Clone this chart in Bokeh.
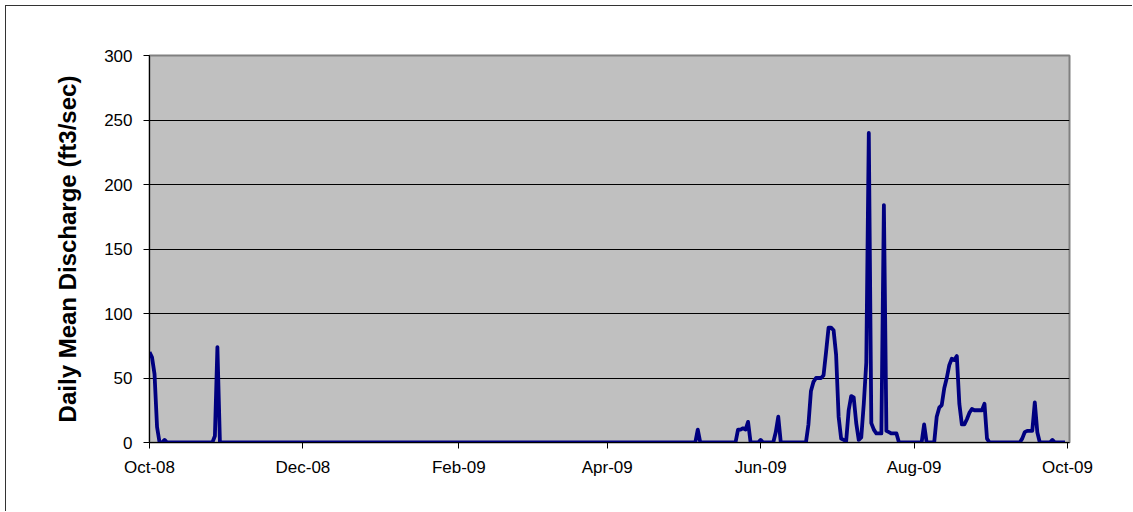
from datetime import datetime
from bokeh.plotting import figure
from bokeh.models import Range1d, FixedTicker, DatetimeTickFormatter, ColumnDataSource
from bokeh.embed import file_html
from bokeh.resources import INLINE

# ---- data ----
dates = [
    "2008-10-01", "2008-10-02", "2008-10-03", "2008-10-04", "2008-10-05", "2008-10-06",
    "2008-10-07", "2008-10-08", "2008-10-26", "2008-10-27", "2008-10-28", "2008-10-29",
    "2009-05-06", "2009-05-07", "2009-05-08",
    "2009-05-22", "2009-05-23", "2009-05-24", "2009-05-25", "2009-05-26", "2009-05-27", "2009-05-28",
    "2009-05-31", "2009-06-01", "2009-06-02",
    "2009-06-06", "2009-06-07", "2009-06-08", "2009-06-09",
    "2009-06-19", "2009-06-20", "2009-06-21", "2009-06-22", "2009-06-23", "2009-06-24",
    "2009-06-25", "2009-06-26", "2009-06-27", "2009-06-28", "2009-06-29", "2009-06-30",
    "2009-07-01", "2009-07-02", "2009-07-03", "2009-07-04", "2009-07-05", "2009-07-06",
    "2009-07-07", "2009-07-08", "2009-07-09", "2009-07-10", "2009-07-11", "2009-07-12",
    "2009-07-13", "2009-07-14", "2009-07-15", "2009-07-16", "2009-07-17", "2009-07-18",
    "2009-07-19", "2009-07-20", "2009-07-21", "2009-07-22", "2009-07-23", "2009-07-24",
    "2009-07-25", "2009-07-26",
    "2009-08-04", "2009-08-05", "2009-08-06",
    "2009-08-09", "2009-08-10", "2009-08-11", "2009-08-12", "2009-08-13", "2009-08-14",
    "2009-08-15", "2009-08-16", "2009-08-17", "2009-08-18", "2009-08-19", "2009-08-20",
    "2009-08-21", "2009-08-22", "2009-08-23", "2009-08-24", "2009-08-25", "2009-08-26",
    "2009-08-27", "2009-08-28", "2009-08-29", "2009-08-30", "2009-08-31",
    "2009-09-12", "2009-09-13", "2009-09-14", "2009-09-15", "2009-09-16", "2009-09-17",
    "2009-09-18", "2009-09-19", "2009-09-20",
    "2009-09-24", "2009-09-25", "2009-09-26", "2009-09-30",
]
discharge = [
    70, 66, 53, 12, 0, 0,
    2, 0, 0, 5, 74, 0,
    0, 10, 0,
    0, 10, 10, 11, 10, 16, 0,
    0, 2, 0,
    0, 8, 20, 0,
    0, 14, 40, 47, 50, 50,
    50, 52, 70, 89, 89, 87,
    68, 20, 3, 2, 1, 25,
    36, 35, 15, 2, 4, 30,
    62, 240, 15, 10, 7, 7,
    7, 184, 9, 8, 7, 7,
    7, 0,
    0, 14, 0,
    0, 20, 27, 29, 42, 50,
    60, 65, 64, 67, 30, 14,
    14, 18, 23, 26, 25, 25,
    25, 25, 30, 3, 0,
    0, 3, 8, 9, 9, 9,
    31, 8, 0,
    0, 2, 0, 0,
]
x_ticks = ["2008-10-01", "2008-12-01", "2009-02-01", "2009-04-01",
           "2009-06-01", "2009-08-01", "2009-10-01"]
y_ticks = [0, 50, 100, 150, 200, 250, 300]
y_title = "Daily Mean Discharge (ft3/sec)"

def ms(s):
    return datetime.strptime(s, "%Y-%m-%d").timestamp() * 1000.0

src = ColumnDataSource(data=dict(x=[datetime.strptime(d, "%Y-%m-%d") for d in dates],
                                 y=discharge))

DAY = 86400000.0
p = figure(width=1127, height=506, x_axis_type="datetime",
           output_backend="svg", toolbar_location=None,
           x_range=Range1d(ms("2008-10-01"), ms("2009-10-01") + 0.8 * DAY),
           y_range=Range1d(0, 300),
           min_border_left=143, min_border_right=64,
           min_border_top=49, min_border_bottom=70)
p.styles = {"margin-left": "5px", "margin-top": "5px",
            "border-left": "1px solid #333", "border-top": "1px solid #333"}

p.background_fill_color = "#C0C0C0"
p.border_fill_color = "white"
p.outline_line_color = "#808080"
p.outline_line_width = 2

p.line("x", "y", source=src, line_color="#000080", line_width=3.8, line_join="round")

FONT = "Liberation Sans"
# x axis
xa = p.xaxis[0]
xa.ticker = FixedTicker(ticks=[ms(t) for t in x_ticks])
fmt = "%b-%y"
xa.formatter = DatetimeTickFormatter(milliseconds=fmt, seconds=fmt, minsec=fmt, minutes=fmt,
                                     hourmin=fmt, hours=fmt, days=fmt, months=fmt, years=fmt)
xa.axis_line_color = "black"
xa.axis_line_width = 1
xa.major_tick_out = 6
xa.major_tick_in = 0
xa.minor_tick_line_color = None
xa.major_label_standoff = 9
xa.major_label_text_font = FONT
xa.major_label_text_font_size = "17px"
xa.major_label_text_color = "black"

# y axis
ya = p.yaxis[0]
ya.ticker = FixedTicker(ticks=y_ticks)
ya.axis_line_color = "black"
ya.axis_line_width = 1
ya.major_tick_out = 6
ya.major_tick_in = 0
ya.minor_tick_line_color = None
ya.major_label_standoff = 11
ya.major_label_text_font = FONT
ya.major_label_text_font_size = "17px"
ya.major_label_text_color = "black"
ya.axis_label = y_title
ya.axis_label_text_font = FONT
ya.axis_label_text_font_style = "bold"
ya.axis_label_text_font_size = "24px"
ya.axis_label_text_color = "black"
ya.axis_label_standoff = 20

p.xgrid.grid_line_color = None
p.ygrid.grid_line_color = "black"
p.ygrid.grid_line_width = 1

open("out.html", "w").write(file_html(p, INLINE))
